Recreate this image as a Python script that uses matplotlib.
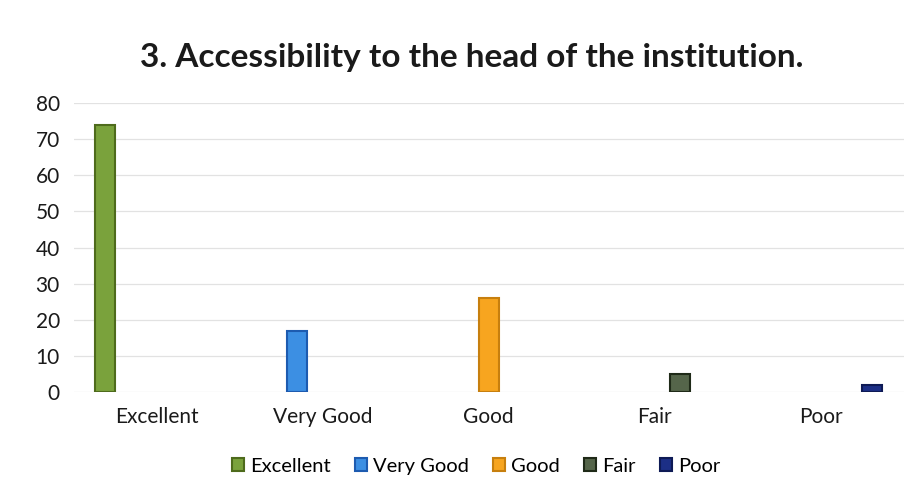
import matplotlib.pyplot as plt
import numpy as np

plt.rcParams['font.family'] = ['Lato', 'DejaVu Sans']

# data
categories = ['Excellent', 'Very Good', 'Good', 'Fair', 'Poor']
values = [74, 17, 26, 5, 2]
colors = ['#7aa23c', '#3c8fe3', '#f7a51f', '#55654a', '#1c2f86']
edges = ['#4e6b1c', '#1d5bb0', '#c77f0e', '#1f2a18', '#0e1a55']

fig = plt.figure(figsize=(9.22, 4.97), dpi=100)
ax = fig.add_axes([0.08, 0.211, 0.90, 0.582])

x = np.arange(len(categories))
step = 0.155
width = 0.12
for i, cat in enumerate(categories):
    # each series only has a value in its own category (Excel clustered look)
    ax.bar(x[i] + (i - 2) * step, values[i], width=width, color=colors[i],
           edgecolor=edges[i], linewidth=1.5, label=cat, zorder=3)

ax.set_xlim(-0.5, len(categories) - 0.5)
ax.set_ylim(0, 80)
ax.set_yticks(range(0, 81, 10))
ax.set_xticks(x)
ax.set_xticklabels(categories)
ax.tick_params(axis='both', length=0, labelsize=15, colors='#1a1a1a')
ax.tick_params(axis='x', pad=11)
ax.tick_params(axis='y', pad=10)
ax.yaxis.grid(True, color='#e2e2e2', linewidth=0.9, zorder=0)
for s in ax.spines.values():
    s.set_visible(False)

ax.set_title('3. Accessibility to the head of the institution.', fontsize=24,
             fontweight='bold', color='#1a1a1a', pad=26, x=0.48)

ax.legend(loc='upper center', bbox_to_anchor=(0.485, -0.165), ncol=5, frameon=False,
          fontsize=14.5, handlelength=0.6, handleheight=0.6, handletextpad=0.3,
          columnspacing=1.2)

plt.savefig('out.png', dpi=100)
